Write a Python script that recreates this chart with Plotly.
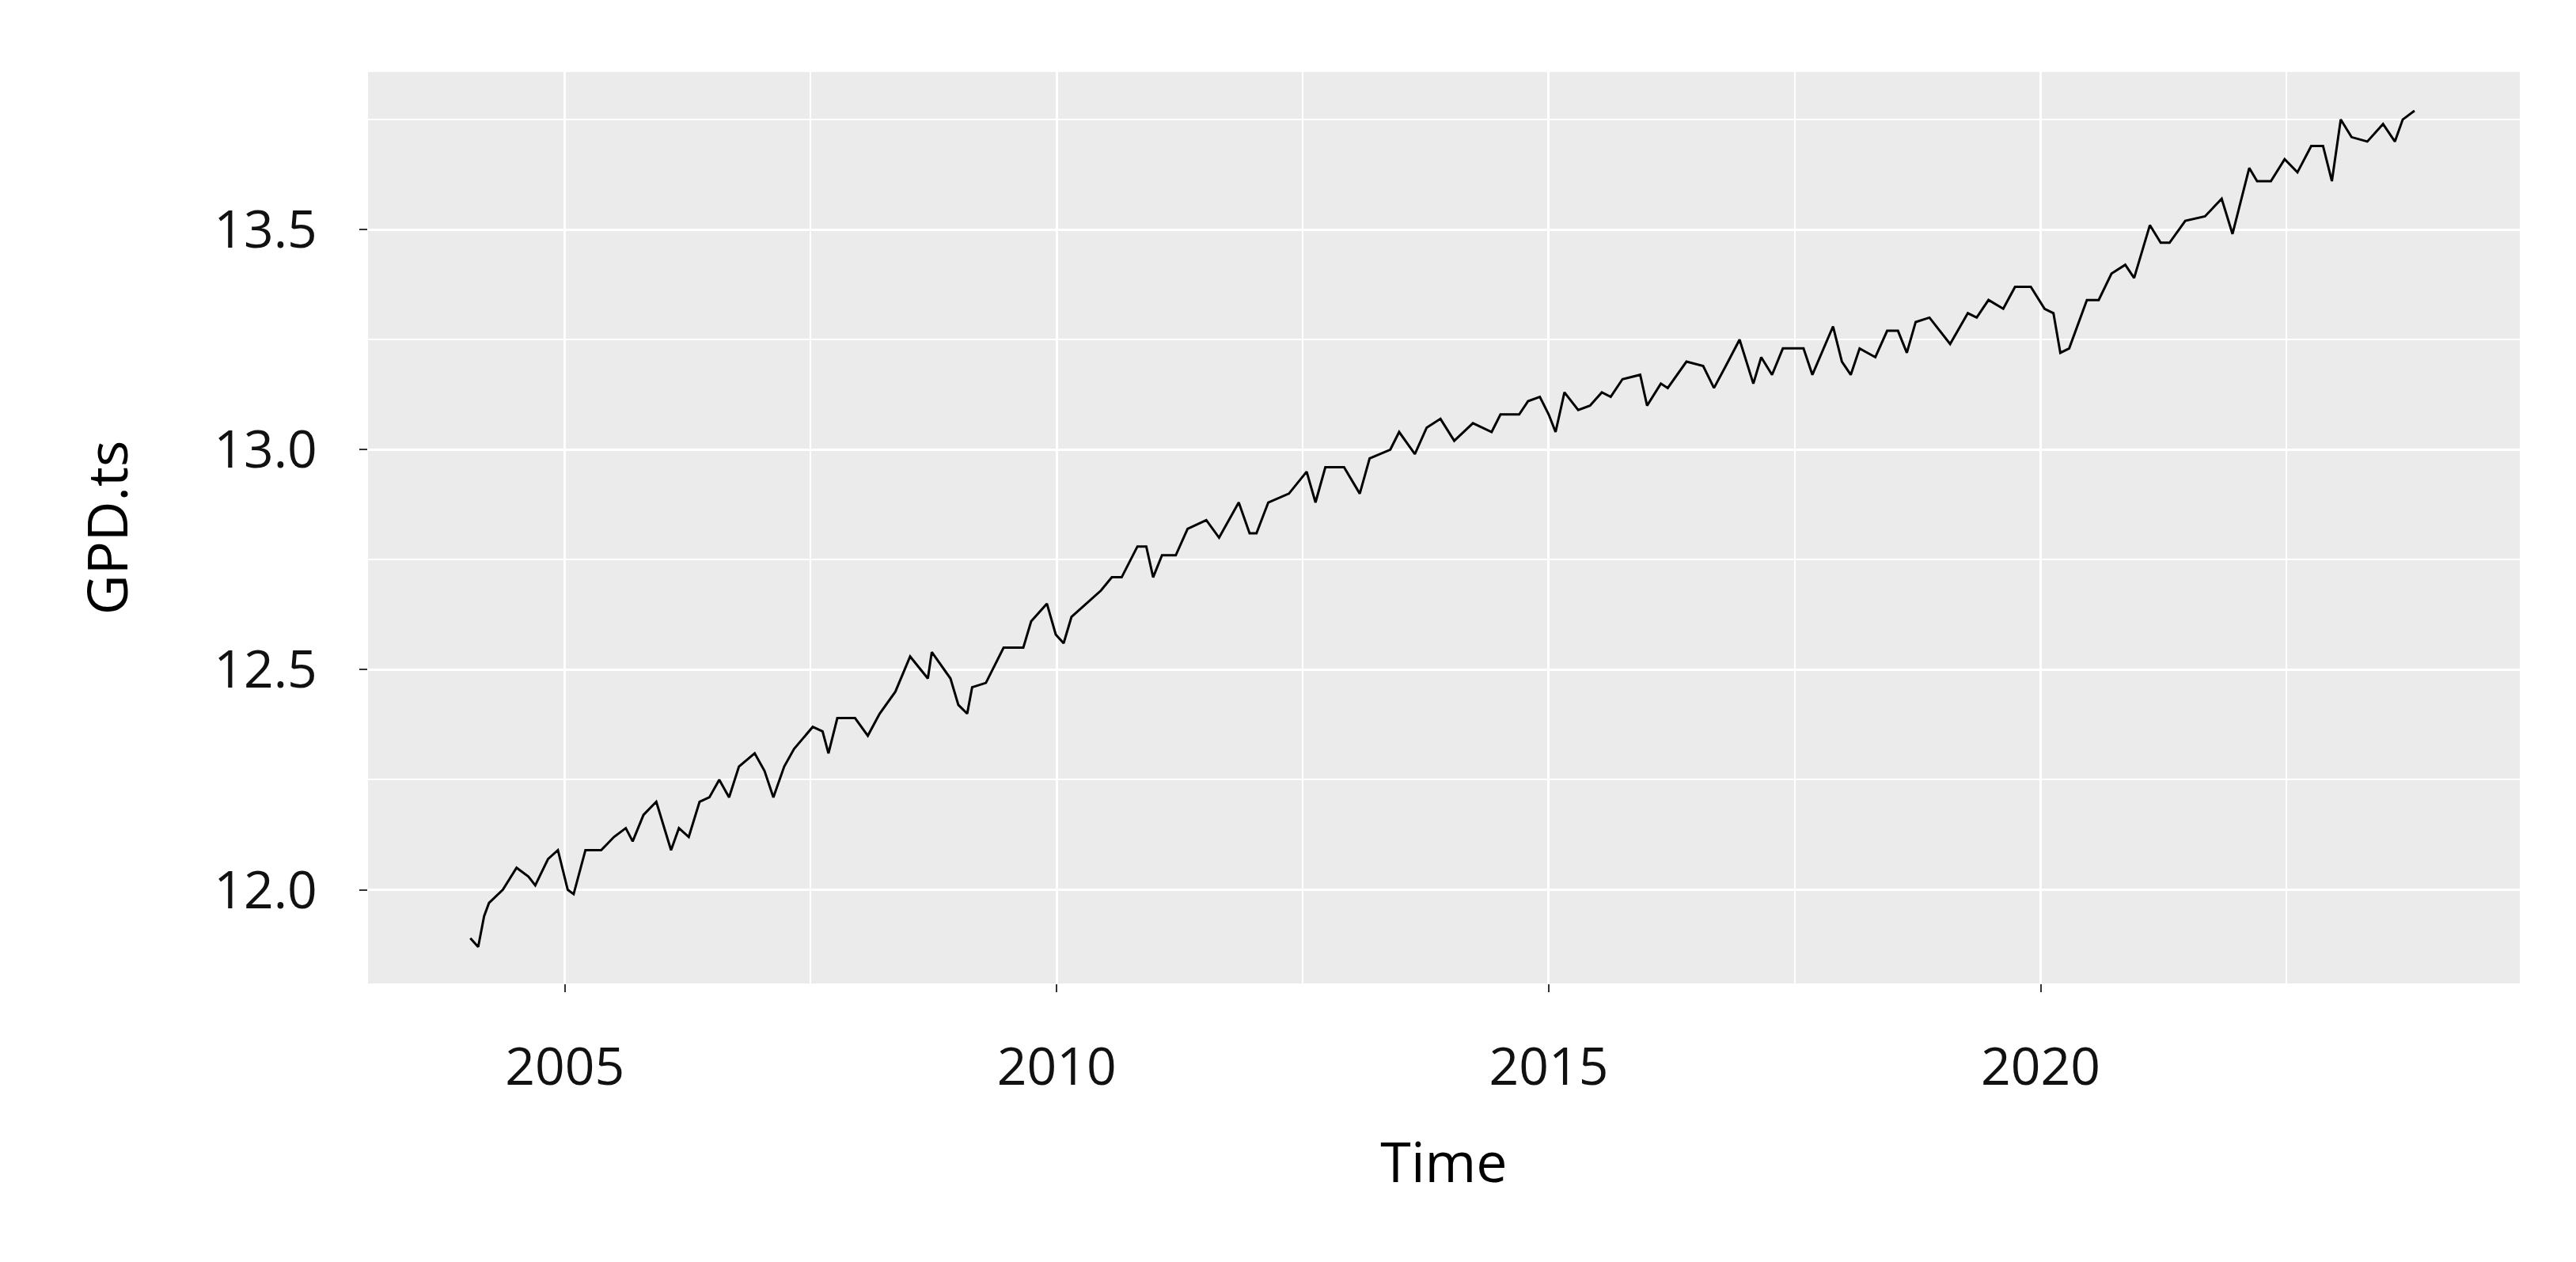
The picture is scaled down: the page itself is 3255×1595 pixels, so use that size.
import plotly.graph_objects as go

# time (decimal years) and log GDP values
years = [
    2004.04, 2004.12, 2004.18, 2004.23, 2004.37, 2004.51, 2004.63, 2004.70, 2004.83, 2004.93,
    2005.03, 2005.09, 2005.21, 2005.37, 2005.50, 2005.62, 2005.69, 2005.80, 2005.93, 2006.08,
    2006.16, 2006.26, 2006.37, 2006.47, 2006.57, 2006.67, 2006.77, 2006.93, 2007.03, 2007.12,
    2007.23, 2007.33, 2007.52, 2007.62, 2007.68, 2007.77, 2007.95, 2008.08, 2008.20, 2008.36,
    2008.51, 2008.69, 2008.73, 2008.92, 2009.00, 2009.09, 2009.14, 2009.28, 2009.46, 2009.66,
    2009.74, 2009.90, 2009.99, 2010.07, 2010.15, 2010.25, 2010.45, 2010.56, 2010.66, 2010.82,
    2010.91, 2010.98, 2011.07, 2011.21, 2011.33, 2011.52, 2011.65, 2011.85, 2011.96, 2012.03,
    2012.15, 2012.36, 2012.54, 2012.63, 2012.73, 2012.92, 2013.08, 2013.18, 2013.39, 2013.48,
    2013.64, 2013.76, 2013.90, 2014.04, 2014.23, 2014.42, 2014.51, 2014.70, 2014.79, 2014.91,
    2015.00, 2015.07, 2015.16, 2015.30, 2015.42, 2015.54, 2015.63, 2015.75, 2015.93, 2016.00,
    2016.14, 2016.21, 2016.40, 2016.57, 2016.68, 2016.80, 2016.94, 2017.08, 2017.16, 2017.27,
    2017.38, 2017.59, 2017.68, 2017.89, 2017.98, 2018.07, 2018.16, 2018.32, 2018.44, 2018.55,
    2018.64, 2018.73, 2018.87, 2019.08, 2019.26, 2019.35, 2019.47, 2019.62, 2019.74, 2019.90,
    2020.04, 2020.13, 2020.20, 2020.29, 2020.47, 2020.59, 2020.72, 2020.86, 2020.95, 2021.11,
    2021.22, 2021.31, 2021.47, 2021.67, 2021.84, 2021.95, 2022.12, 2022.20, 2022.34, 2022.48,
    2022.61, 2022.75, 2022.87, 2022.96, 2023.05, 2023.16, 2023.32, 2023.48, 2023.60, 2023.68,
    2023.80,
]
gdp = [
    11.89, 11.87, 11.94, 11.97, 12.00, 12.05, 12.03, 12.01, 12.07, 12.09,
    12.00, 11.99, 12.09, 12.09, 12.12, 12.14, 12.11, 12.17, 12.20, 12.09,
    12.14, 12.12, 12.20, 12.21, 12.25, 12.21, 12.28, 12.31, 12.27, 12.21,
    12.28, 12.32, 12.37, 12.36, 12.31, 12.39, 12.39, 12.35, 12.40, 12.45,
    12.53, 12.48, 12.54, 12.48, 12.42, 12.40, 12.46, 12.47, 12.55, 12.55,
    12.61, 12.65, 12.58, 12.56, 12.62, 12.64, 12.68, 12.71, 12.71, 12.78,
    12.78, 12.71, 12.76, 12.76, 12.82, 12.84, 12.80, 12.88, 12.81, 12.81,
    12.88, 12.90, 12.95, 12.88, 12.96, 12.96, 12.90, 12.98, 13.00, 13.04,
    12.99, 13.05, 13.07, 13.02, 13.06, 13.04, 13.08, 13.08, 13.11, 13.12,
    13.08, 13.04, 13.13, 13.09, 13.10, 13.13, 13.12, 13.16, 13.17, 13.10,
    13.15, 13.14, 13.20, 13.19, 13.14, 13.19, 13.25, 13.15, 13.21, 13.17,
    13.23, 13.23, 13.17, 13.28, 13.20, 13.17, 13.23, 13.21, 13.27, 13.27,
    13.22, 13.29, 13.30, 13.24, 13.31, 13.30, 13.34, 13.32, 13.37, 13.37,
    13.32, 13.31, 13.22, 13.23, 13.34, 13.34, 13.40, 13.42, 13.39, 13.51,
    13.47, 13.47, 13.52, 13.53, 13.57, 13.49, 13.64, 13.61, 13.61, 13.66,
    13.63, 13.69, 13.69, 13.61, 13.75, 13.71, 13.70, 13.74, 13.70, 13.75,
    13.77,
]

x_ticks = [2005, 2010, 2015, 2020]
y_ticks = [12.0, 12.5, 13.0, 13.5]
y_tick_labels = ["12.0", "12.5", "13.0", "13.5"]

fig = go.Figure()
fig.add_trace(go.Scatter(
    x=years, y=gdp, mode="lines",
    line=dict(color="black", width=3),
    showlegend=False,
))

axis_common = dict(
    showgrid=True, gridcolor="white", gridwidth=3,
    zeroline=False, showline=False,
    ticks="outside", ticklen=10, tickwidth=2, tickcolor="#333333",
    tickfont=dict(family="Open Sans", size=66, color="#111111"),
    minor=dict(showgrid=True, gridcolor="white", gridwidth=1.5),
)

fig.update_xaxes(
    range=[2003.0, 2024.87], tickvals=x_ticks,
    minor_dtick=2.5, minor_tick0=2002.5,
    title=dict(text="Time", font=dict(family="Open Sans", size=70, color="black"), standoff=55),
    ticklabelstandoff=38,
    **axis_common,
)
fig.update_yaxes(
    range=[11.787, 13.858], tickvals=y_ticks, ticktext=y_tick_labels,
    minor_dtick=0.25, minor_tick0=11.75,
    title=dict(text="GPD.ts", font=dict(family="Open Sans", size=70, color="black"), standoff=85),
    ticklabelstandoff=40,
    **axis_common,
)

fig.update_layout(
    width=3255, height=1595,
    margin=dict(l=457, r=79, t=83, b=360),
    plot_bgcolor="#EBEBEB", paper_bgcolor="white",
)

fig.write_html("out.html")
